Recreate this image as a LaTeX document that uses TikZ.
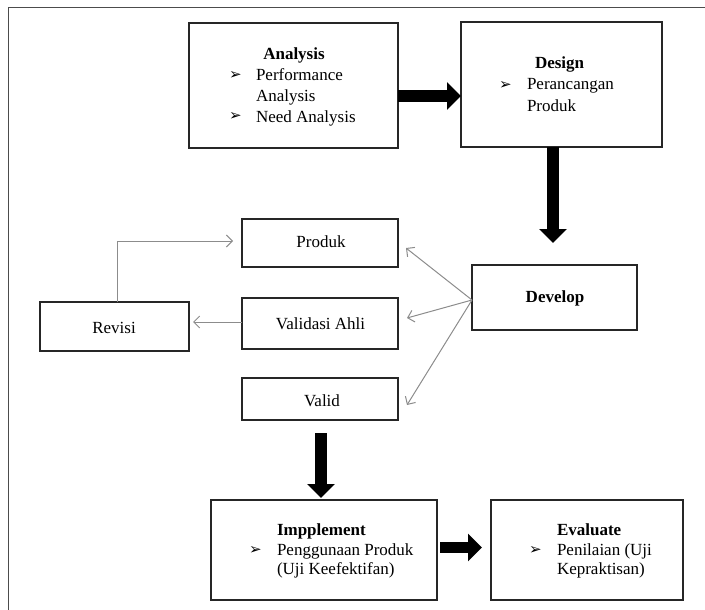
\documentclass[tikz,border=0pt]{standalone}
\usepackage{fontspec}
\setmainfont{Liberation Serif}
\newfontfamily\dejavu{DejaVu Sans}
\usetikzlibrary{arrows.meta}
\newcommand{\bul}{{\dejavu\fontsize{15}{15}\selectfont\char"27A2}}
\begin{document}
\begin{tikzpicture}[x=1pt,y=-1pt,
  bx/.style={draw=black!85,line width=1.2pt,rectangle,inner sep=0pt,outer sep=0pt},
  txt/.style={font=\fontsize{17}{20}\selectfont,inner sep=0pt,outer sep=0pt},
  ttl/.style={font=\fontsize{17}{20}\selectfont\bfseries,inner sep=0pt,outer sep=0pt},
  bigarrow/.style={line width=12.5pt,draw=black,-{Triangle[length=14pt,width=27pt]}},
  thinarrow/.style={draw=black!45,line width=1pt,-{Straight Barb[length=6pt,width=12pt]}}]
\useasboundingbox (0,0) rectangle (705,610);
% outer frame (partly visible)
\draw[black!70,line width=1pt] (705,8) -- (8,8) -- (8,610);

% boxes
\node[bx,minimum width=209pt,minimum height=125pt] (an) at (293.5,85.5) {};
\node[bx,minimum width=201pt,minimum height=125pt] (de) at (561.5,84.5) {};
\node[bx,minimum width=165pt,minimum height=65pt] (dv) at (554.5,297.5) {};
\node[bx,minimum width=156pt,minimum height=48pt] (pr) at (320,243) {};
\node[bx,minimum width=156pt,minimum height=51pt] (vd) at (320,323.5) {};
\node[bx,minimum width=156pt,minimum height=42pt] (vl) at (320,399) {};
\node[bx,minimum width=149pt,minimum height=49pt] (rv) at (114.5,326.5) {};
\node[bx,minimum width=226pt,minimum height=100pt] (im) at (324,550) {};
\node[bx,minimum width=192pt,minimum height=100pt] (ev) at (587,550) {};

% texts: Analysis
\node[ttl,anchor=base] (t1) at (294,60) {Analysis};
\node[txt,anchor=base west] (b1) at (229,80) {\bul};
\node[txt,anchor=base west] (t2) at (256,81) {Performance};
\node[txt,anchor=base west] (t3) at (256,102) {Analysis};
\node[txt,anchor=base west] (b2) at (229,121) {\bul};
\node[txt,anchor=base west] (t4) at (256,122) {Need Analysis};
% Design
\node[ttl,anchor=base west] (t5) at (535,69) {Design};
\node[txt,anchor=base west] (b3) at (499,89) {\bul};
\node[txt,anchor=base west] (t6) at (527,90) {Perancangan};
\node[txt,anchor=base west] (t7) at (527,112) {Produk};
% Develop and middle boxes
\node[ttl,anchor=base] (t8) at (555,302) {Develop};
\node[txt,anchor=base] (t9) at (321,247) {Produk};
\node[txt,anchor=base] (t10) at (320.5,329) {Validasi Ahli};
\node[txt,anchor=base] (t11) at (322,406) {Valid};
\node[txt,anchor=base] (t12) at (114,333) {Revisi};
% Impplement
\node[ttl,anchor=base west] (t13) at (277,535) {Impplement};
\node[txt,anchor=base west] (b4) at (249,554) {\bul};
\node[txt,anchor=base west] (t14) at (277,555) {Penggunaan Produk};
\node[txt,anchor=base west] (t15) at (277,574) {(Uji Keefektifan)};
% Evaluate
\node[ttl,anchor=base west] (t16) at (557,535) {Evaluate};
\node[txt,anchor=base west] (b5) at (529,554) {\bul};
\node[txt,anchor=base west] (t17) at (557,555) {Penilaian (Uji};
\node[txt,anchor=base west] (t18) at (557,574) {Kepraktisan)};

% free ends
\coordinate (dtip) at (553,243);
\coordinate (ptip) at (406,248);
\coordinate (vdtip) at (407,318);
\coordinate (vltip) at (407,405);
\coordinate (rtip) at (233,241);
\coordinate (rvtip) at (193,322);

% big arrows
\draw[bigarrow] ([yshift=-10.5pt]an.east) -- ([yshift=-10.5pt]an.east -| de.west);
\draw[bigarrow] (de.south -| dtip) -- (dtip);
\draw[bigarrow] ([xshift=1pt,yshift=-13pt]vl.south) -- ([xshift=1pt,yshift=2pt]vl.south |- im.north);
\draw[bigarrow,line width=11pt] ([xshift=3pt,yshift=2.5pt]im.east) -- ([yshift=2.5pt,xshift=-9pt]ev.west);

% thin arrows
\draw[thinarrow] ([yshift=-2.5pt]dv.west) -- (ptip);
\draw[thinarrow] ([yshift=-2.5pt]dv.west) -- (vdtip);
\draw[thinarrow] ([yshift=-2.5pt]dv.west) -- (vltip);
\draw[thinarrow] ([yshift=1.5pt]vd.west) -- (rvtip);
\draw[thinarrow] ([xshift=2.5pt]rv.north) |- (rtip);
\end{tikzpicture}
\end{document}
